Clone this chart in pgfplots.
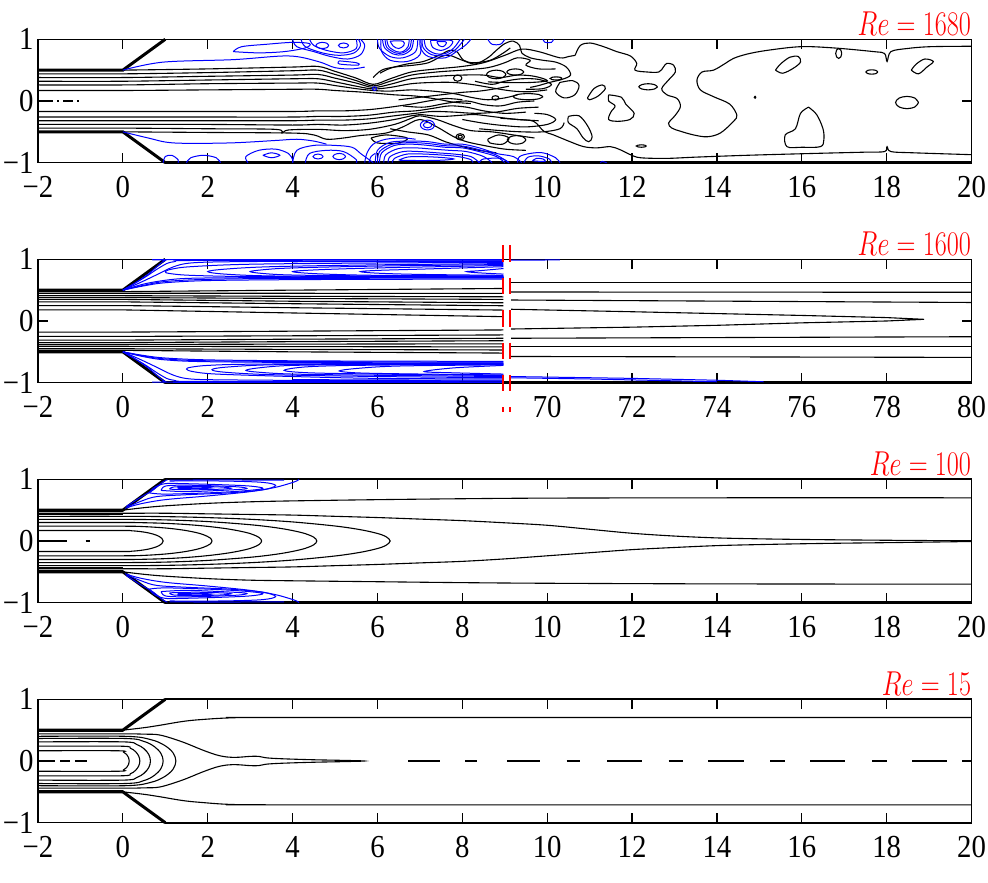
\documentclass[border=0pt]{standalone}
\usepackage{pgfplots}
\pgfplotsset{compat=1.18}
\usepackage{graphicx}
\usepackage{fontspec}
\setmainfont{Liberation Serif}[FakeStretch=0.9]
\definecolor{cb}{RGB}{0,0,255}
\pgfplotsset{
 panel/.style={anchor=south west, width=466.75pt, height=61.7pt, scale only axis,
   xmin=-2,xmax=20,ymin=-1,ymax=1, xtick={-2,0,...,20}, ytick={-1,0,1},
   xticklabels={−2,0,2,4,6,8,10,12,14,16,18,20},
   yticklabels={−1,0,1},
   tick align=inside, major tick length=5pt,
   axis line style={line width=0.6pt},
   every tick/.style={black,line width=0.6pt},
   tick label style={font=\fontsize{16}{18}\selectfont},
   yticklabel style={inner xsep=2pt,inner ysep=0pt},
   xticklabel style={inner ysep=0pt,yshift=-6.5pt},
   clip=false},
 k/.style={black,line width=0.55pt,smooth,tension=0.55},
 kl/.style={black,line width=0.55pt},
 b/.style={cb,line width=0.5pt,smooth,tension=0.55},
 bl/.style={cb,line width=0.5pt},
 wall/.style={black,line width=1.5pt},
}
\newcommand{\ttl}[1]{\node[anchor=base east,inner sep=0pt,text=red,font=\fontsize{17.28}{20}\selectfont] at (rel axis cs:1,1) [yshift=2pt] {\scalebox{0.76}[1]{$Re = #1$}};}
\begin{document}
\begin{tikzpicture}
\path[use as bounding box] (0,0) rectangle (494pt,441pt);
%================ PANEL 1 ==================
\begin{axis}[panel, at={(19pt,359.65pt)}]
\addplot[wall] coordinates {(-2,0.5)(0,0.5)(1,1)};
\addplot[wall] coordinates {(-2,-0.5)(0,-0.5)(1,-1)};
\addplot[black,line width=1.2pt] coordinates {(1,-1)(20,-1)};
\addplot[black,line width=0.6pt,dash pattern=on 5pt off 2pt on 1pt off 2pt] coordinates {(-1.88,0)(-0.95,0)};
% jet lines upper
\addplot[k] coordinates {(0,0.50)(2,0.52)(4,0.55)(4.6,0.56)(5.0,0.48)(5.5,0.37)(5.9,0.27)(6.3,0.36)(6.8,0.47)(7.4,0.52)(8.0,0.56)(8.5,0.62)(9.0,0.74)(9.4,0.84)(9.8,0.80)(10.3,0.70)(10.5,0.72)(10.66,0.74)};
\addplot[k] coordinates {(-2,0.44)(0,0.44)(2,0.46)(4,0.49)(4.6,0.50)(5.0,0.43)(5.5,0.33)(5.9,0.245)(6.3,0.32)(6.8,0.42)(7.4,0.47)(8.0,0.50)(8.6,0.54)(9.0,0.62)(9.3,0.70)(9.6,0.66)(9.5,0.58)(9.8,0.52)(10.2,0.52)};
\addplot[k] coordinates {(-2,0.38)(0,0.38)(2,0.40)(4,0.42)(4.6,0.43)(5.0,0.37)(5.5,0.29)(5.9,0.22)(6.3,0.27)(6.8,0.36)(7.4,0.40)(8.0,0.42)(8.5,0.42)(8.9,0.38)(9.3,0.42)(9.7,0.40)(10.0,0.33)(9.6,0.30)(9.0,0.30)(8.6,0.31)};
\addplot[k] coordinates {(-2,0.32)(0,0.32)(2,0.34)(4,0.36)(4.6,0.36)(5.0,0.31)(5.5,0.24)(5.9,0.195)(6.3,0.22)(6.8,0.28)(7.3,0.30)(7.8,0.30)(8.3,0.26)(8.8,0.20)(9.2,0.16)(9.6,0.15)(10.0,0.18)};
\addplot[k] coordinates {(-2,0.26)(0,0.26)(2,0.28)(4,0.29)(4.6,0.29)(5.0,0.25)(5.5,0.2)(5.9,0.17)(6.3,0.16)(6.8,0.18)(7.3,0.16)(7.8,0.12)(8.2,0.06)(8.6,0.02)(9.0,0.05)(9.3,0.10)};
\addplot[k] coordinates {(-2,0.17)(0,0.17)(2,0.18)(4,0.19)(4.6,0.19)(5.0,0.17)(5.5,0.15)(5.9,0.13)(6.4,0.10)(6.9,0.08)(7.4,0.03)(7.8,-0.02)(8.2,-0.04)};
% jet lines lower
\addplot[k] coordinates {(0,-0.5)(2,-0.51)(4,-0.52)(4.5,-0.55)(4.8,-0.62)(5.2,-0.60)(5.6,-0.56)(6.2,-0.52)(6.6,-0.42)(7.0,-0.30)(7.4,-0.42)(7.8,-0.58)(8.1,-0.66)(8.5,-0.72)(9.0,-0.78)(9.5,-0.80)};
\addplot[k] coordinates {(-2,-0.44)(0,-0.44)(2,-0.45)(3.6,-0.46)(3.75,-0.52)(3.9,-0.47)(4.6,-0.46)(5.2,-0.48)(5.8,-0.46)(6.4,-0.38)(6.8,-0.28)(7.0,-0.24)(7.4,-0.30)(7.8,-0.40)(8.2,-0.48)(8.7,-0.50)(9.2,-0.55)(9.7,-0.60)};
\addplot[k] coordinates {(-2,-0.38)(0,-0.38)(2,-0.38)(4,-0.39)(4.6,-0.38)(5.2,-0.39)(5.8,-0.36)(6.4,-0.30)(6.8,-0.24)(7.0,-0.22)(7.5,-0.25)(8.0,-0.23)(8.3,-0.22)(8.8,-0.26)(9.3,-0.30)(9.8,-0.32)};
\addplot[k] coordinates {(-2,-0.32)(0,-0.32)(2,-0.32)(4,-0.32)(4.6,-0.31)(5.2,-0.31)(5.8,-0.29)(6.4,-0.24)(6.9,-0.20)(7.3,-0.17)(7.8,-0.18)(8.3,-0.20)(8.8,-0.18)(9.3,-0.12)(9.8,-0.10)};
\addplot[k] coordinates {(-2,-0.26)(0,-0.26)(2,-0.26)(4,-0.26)(4.6,-0.25)(5.2,-0.25)(5.8,-0.23)(6.4,-0.18)(6.9,-0.16)(7.3,-0.12)(7.7,-0.08)(8.1,-0.10)(8.5,-0.16)(9.0,-0.20)(9.5,-0.18)};
\addplot[k] coordinates {(-2,-0.17)(0,-0.17)(2,-0.17)(4,-0.17)(4.6,-0.16)(5.2,-0.16)(5.8,-0.14)(6.3,-0.10)(6.8,-0.05)(7.2,0.0)(7.6,0.04)(8.0,0.02)};
% extra jet meanders
\addplot[k] coordinates {(5.9,0.38)(6.1,0.5)(6.4,0.55)(6.85,0.58)(7.2,0.62)(7.5,0.72)(7.7,0.74)(8.0,0.66)(8.3,0.6)(8.6,0.7)(8.8,0.82)(9.0,0.93)(9.2,0.97)(9.35,0.9)(9.4,0.78)(9.6,0.7)(9.9,0.66)(10.2,0.63)(10.45,0.55)(10.55,0.42)(10.35,0.35)(10.05,0.3)(9.8,0.25)(9.6,0.22)};
\addplot[k] coordinates {(6.06,0.45)(6.3,0.53)(6.7,0.6)(7.08,0.64)(7.48,0.75)(7.7,0.82)(7.87,0.8)(8.03,0.66)(8.27,0.62)(8.66,0.66)(8.97,0.78)(9.13,0.86)};
\addplot[k] coordinates {(8.3,0.32)(8.7,0.27)(9.0,0.32)(9.4,0.36)(9.8,0.35)(10.1,0.27)(9.9,0.2)(9.5,0.19)};
\addplot[k] coordinates {(6.5,0.02)(7.0,0.06)(7.5,0.1)(8.0,0.14)(8.4,0.16)(8.8,0.2)(9.1,0.24)};
\addplot[k] coordinates {(6.6,-0.08)(7.1,-0.1)(7.6,-0.04)(8.1,0.0)(8.5,-0.06)(8.9,-0.08)(9.3,-0.02)(9.7,0.0)};
\addplot[k] coordinates {(8.0,-0.3)(8.5,-0.36)(9.0,-0.4)(9.5,-0.42)(10.0,-0.38)(10.2,-0.3)(10.0,-0.22)(9.7,-0.2)};
\addplot[k] coordinates {(8.4,-0.45)(8.9,-0.48)(9.4,-0.5)(9.9,-0.5)(10.3,-0.45)(10.4,-0.35)};
\addplot[k] coordinates {(6.3,-0.45)(6.7,-0.5)(7.2,-0.55)(7.6,-0.66)(8.0,-0.74)(8.4,-0.8)(8.8,-0.84)};
\addplot[k] coordinates {(7.99,.37)(7.96,.405)(7.89,.42)(7.82,.405)(7.79,.37)(7.82,.335)(7.89,.32)(7.96,.335)(7.99,.37)};
\addplot[k] coordinates {(9.03,.43)(8.96,.479)(8.8,.5)(8.64,.479)(8.57,.43)(8.64,.381)(8.8,.36)(8.96,.381)(9.03,.43)};
\addplot[k] coordinates {(8.86,.05)(8.84,.075)(8.78,.085)(8.72,.075)(8.70,.05)(8.72,.025)(8.78,.015)(8.84,.025)(8.86,.05)};
\addplot[k] coordinates {(5.85,-0.6)(6.2,-0.55)(6.7,-0.6)(6.5,-0.68)(6.0,-0.68)(5.85,-0.6)};
\addplot[k] coordinates {(8.6,-0.62)(8.85,-0.55)(9.1,-0.6)(8.95,-0.7)(8.65,-0.68)(8.6,-0.62)};
\addplot[k] coordinates {(8.05,-.58)(8.02,-.545)(7.95,-.53)(7.88,-.545)(7.85,-.58)(7.88,-.615)(7.95,-.63)(8.02,-.615)(8.05,-.58)};
\addplot[k] coordinates {(8.0,-.58)(7.985,-.5625)(7.95,-.555)(7.915,-.5625)(7.9,-.58)(7.915,-.5975)(7.95,-.605)(7.985,-.5975)(8.0,-.58)};
\addplot[k] coordinates {(9.45,.47)(9.39,.505)(9.25,.52)(9.11,.505)(9.05,.47)(9.11,.435)(9.25,.42)(9.39,.435)(9.45,.47)};
\addplot[k] coordinates {(9.9,.07)(9.8,.105)(9.55,.12)(9.3,.105)(9.2,.07)(9.3,.035)(9.55,.02)(9.8,.035)(9.9,.07)};
\addplot[k] coordinates {(9.5,-.63)(9.43,-.581)(9.28,-.56)(9.13,-.581)(9.06,-.63)(9.13,-.679)(9.28,-.70)(9.43,-.679)(9.5,-.63)};
% far field
\addplot[k] coordinates {(10.66,0.74)(10.78,0.90)(11.01,0.94)(11.33,0.88)(11.64,0.80)(11.96,0.73)(12.11,0.61)(12.07,0.50)(12.35,0.47)(12.63,0.47)(12.74,0.55)(12.82,0.61)(12.98,0.58)(13.02,0.47)(12.86,0.34)(12.7,0.20)(12.82,0.10)(13.06,0.04)(13.14,-0.09)(13.02,-0.23)(12.86,-0.36)(12.94,-0.44)(13.14,-0.49)(13.45,-0.55)(13.77,-0.58)(14.08,-0.52)(14.39,-0.33)(14.47,-0.23)(14.3,-0.05)(13.92,0.07)(13.61,0.18)(13.53,0.34)(13.65,0.47)(13.92,0.5)(14.2,0.61)(14.39,0.69)(14.71,0.76)(15.18,0.82)(15.97,0.88)(16.75,0.86)(17.7,0.80)(17.95,0.77)(18.01,0.64)(18.1,0.80)(18.48,0.85)(19.03,0.88)(20,0.887)};
\addplot[k] coordinates {(8.9,-0.28)(9.3,-0.3)(9.68,-0.33)(9.92,-0.49)(10.15,-0.55)(10.54,-0.66)(10.86,-0.74)(11.17,-0.76)(11.49,-0.74)(11.72,-0.79)(11.96,-0.87)(12.2,-0.92)(12.82,-0.93)(13.5,-0.91)(14.71,-0.88)(16.28,-0.85)(17.46,-0.83)(17.95,-0.82)(18.01,-0.74)(18.1,-0.82)(18.64,-0.84)(20,-0.87)};
\addplot[k] coordinates {(10.5,-0.25)(10.75,-0.24)(10.95,-0.4)(11.06,-0.58)(10.98,-0.66)(10.85,-0.6)(10.7,-0.45)(10.5,-0.35)(10.5,-0.25)};
\addplot[k] coordinates {(11.45,0.1)(11.75,0.06)(11.85,-0.05)(12.05,-0.2)(11.95,-0.3)(11.65,-0.33)(11.45,-0.3)(11.5,-0.18)(11.6,-0.08)(11.45,0.0)(11.45,0.1)};
\addplot[k] coordinates {(10.95,0.05)(11.1,0.2)(11.3,0.26)(11.37,0.2)(11.2,0.08)(11.0,0.02)(10.95,0.05)};
\addplot[k] coordinates {(10.3,0.3)(10.6,0.33)(10.75,0.25)(10.65,0.1)(10.4,0.05)(10.2,0.15)(10.3,0.3)};
\addplot[k] coordinates {(10.35,.365)(10.31,.383)(10.21,.39)(10.11,.383)(10.07,.365)(10.11,.348)(10.21,.34)(10.31,.348)(10.35,.365)};
\addplot[k] coordinates {(12.6,.23)(12.53,.265)(12.38,.28)(12.23,.265)(12.16,.23)(12.23,.195)(12.38,.18)(12.53,.195)(12.6,.23)};
\addplot[k] coordinates {(12.34,-.73)(12.30,-.716)(12.22,-.71)(12.14,-.716)(12.10,-.73)(12.14,-.744)(12.22,-.75)(12.30,-.744)(12.34,-.73)};
\addplot[k] coordinates {(16.16,-0.1)(16.35,-0.22)(16.5,-0.45)(16.52,-0.63)(16.44,-0.74)(16.0,-0.75)(15.65,-0.74)(15.61,-0.55)(15.85,-0.45)(15.97,-0.2)(16.16,-0.1)};
\addplot[k] coordinates {(15.38,0.5)(15.5,0.6)(15.72,0.71)(15.92,0.72)(15.97,0.63)(15.8,0.53)(15.55,0.45)(15.38,0.5)};
\addplot[k] coordinates {(16.94,.77)(16.92,.826)(16.87,.85)(16.82,.826)(16.80,.77)(16.82,.714)(16.87,.69)(16.92,.714)(16.94,.77)};
\addplot[k] coordinates {(17.79,.47)(17.75,.495)(17.65,.505)(17.55,.495)(17.51,.47)(17.55,.445)(17.65,.435)(17.75,.445)(17.79,.47)};
\addplot[k] coordinates {(18.58,0.5)(18.7,0.6)(18.9,0.68)(19.1,0.64)(18.95,0.55)(18.75,0.44)(18.58,0.5)};
\addplot[k] coordinates {(18.75,-.025)(18.67,.045)(18.48,.075)(18.29,.045)(18.21,-.025)(18.29,-.095)(18.48,-.125)(18.67,-.095)(18.75,-.025)};
\addplot[k] coordinates {(14.92,.06)(14.9,.075)(14.88,.06)(14.9,.045)(14.92,.06)};
% blue top
\addplot[b] coordinates {(0,0.5)(0.95,0.63)(2.6,0.67)(3.9,0.73)(4.6,0.64)(5.0,0.54)(5.4,0.52)(5.7,0.55)};
\addplot[b] coordinates {(2.6,0.80)(2.8,0.88)(3.4,0.92)(4.0,0.95)(4.4,0.93)(4.3,0.86)(3.8,0.80)(3.2,0.78)(2.6,0.80)};
\addplot[b] coordinates {(4.0,1.0)(4.1,0.88)(4.5,0.8)(4.9,0.72)(5.3,0.68)(5.6,0.75)(5.7,0.9)(5.6,1.0)};
\addplot[b] coordinates {(4.2,1.0)(4.3,0.88)(4.7,0.78)(5.1,0.74)(5.45,0.78)(5.6,0.9)(5.55,1.0)};
\addplot[b] coordinates {(4.4,1.0)(4.5,0.9)(4.8,0.82)(5.2,0.78)(5.5,0.85)(5.5,1.0)};
\addplot[b] coordinates {(4.85,.9)(4.81,.935)(4.7,.95)(4.6,.935)(4.55,.9)(4.6,.865)(4.7,.85)(4.81,.865)(4.85,.9)};
\addplot[b] coordinates {(5.1,0.65)(5.5,0.62)(5.55,0.58)(5.1,0.6)(5.1,0.65)};
\addplot[b] coordinates {(5.32,.9)(5.28,.928)(5.2,.94)(5.12,.928)(5.08,.9)(5.12,.872)(5.2,.86)(5.28,.872)(5.32,.9)};
\addplot[b] coordinates {(6.0,1.0)(6.05,0.85)(6.3,0.72)(6.6,0.7)(6.9,0.8)(6.95,1.0)};
\addplot[b] coordinates {(6.12,1.0)(6.17,0.86)(6.38,0.76)(6.6,0.75)(6.8,0.84)(6.85,1.0)};
\addplot[b] coordinates {(6.18,1.0)(6.22,0.87)(6.42,0.78)(6.6,0.78)(6.76,0.86)(6.8,1.0)};
\addplot[b] coordinates {(6.22,1.0)(6.27,0.88)(6.45,0.8)(6.6,0.8)(6.72,0.88)(6.75,1.0)};
\addplot[b] coordinates {(6.3,0.97)(6.37,0.89)(6.5,0.85)(6.62,0.9)(6.6,0.97)(6.3,0.97)};
\addplot[b] coordinates {(6.08,1.0)(6.1,0.8)(6.3,0.66)(6.7,0.64)(7.0,0.75)(7.02,1.0)};
\addplot[b] coordinates {(7.0,1.0)(7.02,0.85)(7.2,0.72)(7.6,0.7)(7.9,0.82)(8.1,0.92)(8.2,1.0)};
\addplot[b] coordinates {(7.05,1.0)(7.08,0.86)(7.28,0.75)(7.6,0.74)(7.85,0.84)(8.05,1.0)};
\addplot[b] coordinates {(7.1,1.0)(7.15,0.86)(7.35,0.77)(7.6,0.77)(7.8,0.86)(7.95,1.0)};
\addplot[b] coordinates {(7.25,0.98)(7.3,0.87)(7.5,0.82)(7.7,0.88)(7.75,0.98)(7.25,0.98)};
\addplot[b] coordinates {(7.4,0.96)(7.45,0.9)(7.55,0.88)(7.62,0.93)(7.6,0.96)(7.4,0.96)};
\addplot[b] coordinates {(8.6,1.0)(8.7,0.92)(8.9,0.92)(9.0,1.0)};
\addplot[b] coordinates {(9.9,1.0)(9.95,0.95)(10.1,0.95)(10.15,1.0)};
\addplot[b] coordinates {(5.98,.2)(5.965,.221)(5.93,.23)(5.895,.221)(5.88,.2)(5.895,.179)(5.93,.17)(5.965,.179)(5.98,.2)};
\addplot[b] coordinates {(7.35,-.39)(7.30,-.334)(7.18,-.31)(7.06,-.334)(7.01,-.39)(7.06,-.446)(7.18,-.47)(7.30,-.446)(7.35,-.39)};
\addplot[b] coordinates {(7.28,-.39)(7.25,-.3585)(7.18,-.345)(7.11,-.3585)(7.08,-.39)(7.11,-.4215)(7.18,-.435)(7.25,-.4215)(7.28,-.39)};
% blue bottom
\addplot[b] coordinates {(0,-0.5)(0.6,-0.6)(1.2,-0.68)(2.5,-0.68)(3.6,-0.64)(4.1,-0.62)(4.5,-0.65)(4.8,-0.7)};
\addplot[b] coordinates {(0.95,-1.0)(1.0,-0.9)(1.15,-0.88)(1.3,-0.95)(1.3,-1.0)};
\addplot[b] coordinates {(1.5,-1.0)(1.6,-0.92)(1.9,-0.88)(2.2,-0.92)(2.3,-1.0)};
\addplot[b] coordinates {(2.95,-1.0)(2.9,-0.9)(3.2,-0.8)(3.6,-0.78)(3.9,-0.85)(4.0,-0.95)(4.0,-1.0)};
\addplot[b] coordinates {(3.3,-0.88)(3.5,-0.84)(3.7,-0.88)(3.5,-0.92)(3.3,-0.88)};
\addplot[b] coordinates {(4.0,-1.0)(4.1,-0.8)(4.5,-0.72)(5.0,-0.72)(5.4,-0.75)(5.6,-0.85)(5.8,-0.95)(5.9,-1.0)};
\addplot[b] coordinates {(4.3,-1.0)(4.4,-0.85)(4.8,-0.8)(5.2,-0.82)(5.5,-0.95)(5.5,-1.0)};
\addplot[b] coordinates {(4.72,-.9)(4.68,-.872)(4.6,-.86)(4.52,-.872)(4.48,-.9)(4.52,-.928)(4.6,-.94)(4.68,-.928)(4.72,-.9)};
\addplot[b] coordinates {(5.25,-.9)(5.2,-.865)(5.1,-.85)(5.0,-.865)(4.95,-.9)(5.0,-.935)(5.1,-.95)(5.2,-.935)(5.25,-.9)};
\addplot[b] coordinates {(5.95,-1.0)(6.0,-0.8)(6.3,-0.67)(6.8,-0.65)(7.2,-0.66)(7.6,-0.7)(8.0,-0.7)(8.4,-0.76)(8.8,-0.85)(9.2,-0.9)(9.4,-1.0)};
\addplot[b] coordinates {(6.0,-1.0)(6.05,-0.82)(6.35,-0.7)(6.8,-0.675)(7.2,-0.69)(7.6,-0.725)(8.0,-0.73)(8.4,-0.79)(8.8,-0.875)(9.1,-1.0)};
\addplot[b] coordinates {(6.05,-1.0)(6.1,-0.84)(6.4,-0.72)(6.8,-0.7)(7.2,-0.72)(7.6,-0.75)(8.0,-0.76)(8.4,-0.82)(8.8,-0.9)(9.0,-1.0)};
\addplot[b] coordinates {(6.15,-1.0)(6.2,-0.87)(6.5,-0.77)(6.9,-0.76)(7.3,-0.78)(7.7,-0.8)(8.1,-0.82)(8.5,-0.9)(8.7,-1.0)};
\addplot[b] coordinates {(6.25,-1.0)(6.3,-0.9)(6.6,-0.82)(7.0,-0.82)(7.4,-0.84)(7.8,-0.86)(8.2,-0.9)(8.4,-1.0)};
\addplot[b] coordinates {(6.35,-1.0)(6.4,-0.93)(6.7,-0.86)(7.1,-0.86)(7.5,-0.875)(7.9,-0.9)(8.2,-0.95)(8.25,-1.0)};
\addplot[b] coordinates {(6.5,-0.96)(6.7,-0.91)(7.0,-0.9)(7.5,-0.915)(7.8,-0.94)(7.5,-0.96)(7.0,-0.965)(6.5,-0.96)};
\addplot[b] coordinates {(5.7,-1.0)(5.75,-0.85)(5.9,-0.7)(6.2,-0.62)(6.6,-0.6)(6.9,-0.62)};
\addplot[b] coordinates {(5.8,-1.0)(5.85,-0.9)(5.95,-0.85)};
\addplot[b] coordinates {(9.3,-1.0)(9.35,-0.9)(9.6,-0.85)(9.9,-0.84)(10.2,-0.92)(10.3,-1.0)};
\addplot[b] coordinates {(9.45,-1.0)(9.55,-0.91)(9.8,-0.89)(10.05,-0.94)(10.1,-1.0)};
\addplot[b] coordinates {(9.65,-0.97)(9.75,-0.93)(9.9,-0.94)(9.95,-0.98)(9.65,-0.97)};
\addplot[b] coordinates {(8.4,-1.0)(8.5,-0.94)(8.9,-0.93)(9.1,-1.0)};
\addplot[b] coordinates {(11.25,-1.0)(11.3,-0.98)(11.4,-1.0)};
\ttl{1680}
\end{axis}
%================ PANEL 2 ==================
\begin{axis}[panel, at={(19pt,249.65pt)}, xticklabels={−2,0,2,4,6,8,70,72,74,76,78,80}]
\addplot[wall] coordinates {(-2,0.5)(0,0.5)(1,1)};
\addplot[wall] coordinates {(-2,-0.5)(0,-0.5)(1,-1)};
\addplot[black,line width=1.2pt] coordinates {(1,-1)(20,-1)};
% black streamlines left
\addplot[kl] coordinates {(-2,0.476)(0,0.476)(4,0.50)(8.97,0.527)};
\addplot[kl] coordinates {(-2,0.45)(0,0.45)(4,0.449)(8.97,0.447)};
\addplot[kl] coordinates {(-2,0.41)(0,0.41)(4,0.40)(8.97,0.392)};
\addplot[kl] coordinates {(-2,0.38)(0,0.38)(4,0.365)(8.97,0.35)};
\addplot[kl] coordinates {(-2,0.35)(0,0.35)(4,0.32)(8.97,0.295)};
\addplot[kl] coordinates {(-2,0.31)(0,0.31)(4,0.28)(8.97,0.247)};
\addplot[kl] coordinates {(-2,0.25)(0,0.25)(4,0.215)(8.97,0.177)};
\addplot[kl] coordinates {(-2,0.18)(0,0.18)(4,0.13)(8.97,0.07)};
\addplot[kl] coordinates {(-2,-0.476)(0,-0.476)(4,-0.50)(8.97,-0.52)};
\addplot[kl] coordinates {(-2,-0.45)(0,-0.45)(4,-0.46)(8.97,-0.47)};
\addplot[kl] coordinates {(-2,-0.41)(0,-0.41)(4,-0.415)(8.97,-0.42)};
\addplot[kl] coordinates {(-2,-0.38)(0,-0.38)(4,-0.375)(8.97,-0.37)};
\addplot[kl] coordinates {(-2,-0.35)(0,-0.35)(4,-0.335)(8.97,-0.32)};
\addplot[kl] coordinates {(-2,-0.31)(0,-0.31)(4,-0.295)(8.97,-0.28)};
\addplot[kl] coordinates {(-2,-0.25)(0,-0.25)(4,-0.24)(8.97,-0.226)};
\addplot[kl] coordinates {(-2,-0.18)(0,-0.18)(4,-0.165)(8.97,-0.145)};
% blue top
\addplot[b] coordinates {(0,0.5)(0.5,0.57)(1,0.62)(2,0.655)(4,0.67)(6,0.675)(8.97,0.68)};
\addplot[b] coordinates {(0,0.5)(0.5,0.6)(1,0.66)(1.5,0.69)(2.5,0.70)(5,0.705)(8.97,0.71)};
\addplot[b] coordinates {(0,0.5)(0.5,0.58)(1,0.64)(2,0.675)(4,0.69)(8.97,0.695)};
\addplot[b] coordinates {(8.97,0.715)(6,0.715)(3,0.72)(1.6,0.74)(1.1,0.77)(1.0,0.8)(1.15,0.84)(1.6,0.88)(3,0.92)(6,0.94)(8.97,0.95)};
\addplot[b] coordinates {(8.97,0.72)(6,0.72)(3.5,0.73)(2.4,0.76)(2.0,0.8)(2.4,0.84)(3.5,0.88)(6,0.91)(8.97,0.93)};
\addplot[b] coordinates {(8.97,0.725)(6,0.73)(4,0.745)(3.3,0.77)(3.0,0.8)(3.3,0.83)(4,0.86)(6,0.89)(8.97,0.915)};
\addplot[b] coordinates {(8.97,0.73)(6,0.74)(4.6,0.765)(4.0,0.8)(4.6,0.83)(6,0.86)(8.97,0.9)};
\addplot[b] coordinates {(8.97,0.74)(7,0.755)(6,0.775)(5.6,0.8)(6,0.82)(7,0.84)(8.97,0.88)};
\addplot[b] coordinates {(8.97,0.76)(8.4,0.78)(8.1,0.8)(8.4,0.815)(8.97,0.85)};
\addplot[b] coordinates {(0,0.5)(0.4,0.62)(0.8,0.75)(1.2,0.88)(1.6,0.94)(2.5,0.96)(5,0.97)(8.97,0.975)};
\addplot[b] coordinates {(0,0.5)(0.5,0.7)(0.9,0.88)(1.2,0.96)(2,0.982)(8.97,0.985)};
\addplot[b] coordinates {(0,0.5)(0.3,0.62)(0.6,0.76)(0.8,0.88)(1.0,0.98)(1.3,0.993)(8.97,0.993)};
\addplot[b] coordinates {(4,0.96)(6,0.962)(8.97,0.965)};
\addplot[b] coordinates {(5,0.7)(7,0.7)(8.97,0.7)};
% blue bottom
\addplot[b] coordinates {(0,-0.5)(0.5,-0.56)(1,-0.6)(2,-0.63)(4,-0.645)(6,-0.65)(8.97,-0.655)};
\addplot[b] coordinates {(0,-0.5)(0.5,-0.58)(1,-0.63)(2,-0.66)(5,-0.675)(8.97,-0.68)};
\addplot[b] coordinates {(0,-0.5)(0.5,-0.57)(1,-0.615)(2,-0.645)(5,-0.66)(8.97,-0.668)};
\addplot[b] coordinates {(8.97,-0.69)(6,-0.69)(3,-0.7)(2,-0.72)(1.6,-0.75)(1.5,-0.78)(1.65,-0.82)(2.2,-0.86)(4,-0.9)(6,-0.93)(8.97,-0.94)};
\addplot[b] coordinates {(8.97,-0.695)(6,-0.7)(3.5,-0.71)(2.4,-0.75)(2.1,-0.79)(2.4,-0.83)(3.5,-0.87)(6,-0.9)(8.97,-0.92)};
\addplot[b] coordinates {(8.97,-0.70)(6,-0.705)(4,-0.72)(3.2,-0.76)(2.9,-0.8)(3.2,-0.83)(4,-0.86)(6,-0.88)(8.97,-0.9)};
\addplot[b] coordinates {(8.97,-0.705)(6,-0.715)(4.4,-0.74)(3.8,-0.8)(4.4,-0.84)(6,-0.86)(8.97,-0.885)};
\addplot[b] coordinates {(8.97,-0.71)(6.5,-0.73)(5.5,-0.77)(5.1,-0.81)(5.5,-0.84)(6.5,-0.855)(8.97,-0.875)};
\addplot[b] coordinates {(8.97,-0.72)(7.8,-0.76)(7.1,-0.82)(7.8,-0.84)(8.97,-0.86)};
\addplot[b] coordinates {(0,-0.5)(0.4,-0.62)(0.8,-0.75)(1.2,-0.88)(1.6,-0.94)(2.5,-0.955)(5,-0.965)(8.97,-0.97)};
\addplot[b] coordinates {(0,-0.5)(0.5,-0.7)(0.9,-0.88)(1.2,-0.96)(2,-0.98)(8.97,-0.985)};
\addplot[b] coordinates {(0,-0.5)(0.3,-0.62)(0.6,-0.76)(0.8,-0.88)(1.0,-0.98)(1.3,-0.993)(8.97,-0.993)};
\addplot[b] coordinates {(4,-0.95)(6,-0.955)(8.97,-0.96)};
% right part (x+60)
\addplot[kl] coordinates {(9.15,0.624)(20,0.624)};
\addplot[kl] coordinates {(9.15,0.47)(20,0.465)};
\addplot[kl] coordinates {(9.15,0.34)(20,0.30)};
\addplot[kl] coordinates {(9.15,0.19)(12,0.15)(14,0.12)(16,0.09)(18,0.055)(18.88,0.027)(18,0.0)(16,-0.03)(14,-0.07)(12,-0.1)(9.15,-0.13)};
\addplot[kl] coordinates {(9.15,-0.28)(20,-0.255)};
\addplot[kl] coordinates {(9.15,-0.41)(20,-0.41)};
\addplot[kl] coordinates {(9.15,-0.575)(20,-0.59)};
\addplot[bl] coordinates {(9.15,-0.9)(12,-0.93)(14,-0.96)(15.1,-0.985)};
\addplot[bl] coordinates {(9.15,-0.92)(11,-0.94)(13,-0.97)(14,-0.985)};
\addplot[bl] coordinates {(9.15,0.985)(10.3,0.99)};
% break marks
\addplot[red,line width=1pt,dash pattern=on 8.2pt off 8pt] coordinates {(8.97,1.226)(8.97,-1.468)};
\addplot[red,line width=1pt,dash pattern=on 8.2pt off 8pt] coordinates {(9.13,1.226)(9.13,-1.468)};
\ttl{1600}
\end{axis}
%================ PANEL 3 ==================
\begin{axis}[panel, at={(19pt,139.65pt)}]
\addplot[wall] coordinates {(-2,0.5)(0,0.5)(1,1)};
\addplot[wall] coordinates {(-2,-0.5)(0,-0.5)(1,-1)};
\addplot[black,line width=1.2pt] coordinates {(1,-1)(20,-1)};
\addplot[black,line width=1pt] coordinates {(1,1)(20,1)};
\addplot[black,line width=0.6pt] coordinates {(-1.88,0)(-1.32,0)};
\addplot[black,line width=0.6pt] coordinates {(-0.88,0)(-0.77,0)};
% lip lines
\addplot[k] coordinates {(0,0.5)(0.5,0.54)(1,0.57)(2,0.61)(3,0.635)(4,0.65)(6,0.67)(8,0.685)(10,0.695)(14,0.70)(20,0.70)};
\addplot[k] coordinates {(0,-0.5)(0.5,-0.54)(1,-0.57)(2,-0.61)(3,-0.635)(4,-0.645)(6,-0.66)(8,-0.675)(10,-0.685)(14,-0.695)(20,-0.70)};
% long lines
\addplot[k] coordinates {(-2,0.45)(0,0.45)(1,0.45)(2,0.44)(3,0.43)(4,0.42)(5,0.40)(6,0.38)(7,0.355)(8,0.33)(9,0.295)(10,0.255)(11,0.19)(12,0.125)(13,0.08)(14,0.05)(15,0.035)(16,0.025)(17,0.018)(18,0.012)(19,0.007)(20,0.003)};
\addplot[k] coordinates {(-2,-0.45)(0,-0.45)(1,-0.45)(2,-0.44)(3,-0.43)(4,-0.42)(5,-0.40)(6,-0.38)(7,-0.355)(8,-0.33)(9,-0.29)(10,-0.24)(11,-0.19)(12,-0.14)(13,-0.105)(14,-0.075)(15,-0.058)(16,-0.045)(17,-0.035)(18,-0.027)(19,-0.018)(20,-0.008)};
% tongues
\addplot[k] coordinates {(-2,0.40)(0,0.40)(1,0.395)(2,0.379)(3,0.352)(4,0.309)(5,0.243)(5.6,0.183)(6.0,0.122)(6.2,0.071)(6.3,0)(6.2,-0.071)(6.0,-0.122)(5.6,-0.183)(5,-0.243)(4,-0.309)(3,-0.352)(2,-0.379)(1,-0.395)(0,-0.40)(-2,-0.40)};
\addplot[k] coordinates {(-2,0.35)(0,0.35)(1,0.342)(2,0.315)(3,0.264)(3.6,0.216)(4.0,0.169)(4.3,0.119)(4.5,0.061)(4.57,0)(4.5,-0.061)(4.3,-0.119)(4.0,-0.169)(3.6,-0.216)(3,-0.264)(2,-0.315)(1,-0.342)(0,-0.35)(-2,-0.35)};
\addplot[k] coordinates {(-2,0.30)(0,0.30)(0.5,0.296)(1,0.286)(1.5,0.267)(2,0.237)(2.5,0.193)(2.9,0.139)(3.1,0.095)(3.22,0.052)(3.27,0)(3.22,-0.052)(3.1,-0.095)(2.9,-0.139)(2.5,-0.193)(2,-0.237)(1.5,-0.267)(1,-0.286)(0.5,-0.296)(0,-0.30)(-2,-0.30)};
\addplot[k] coordinates {(-2,0.24)(0,0.24)(0.5,0.233)(1,0.211)(1.4,0.179)(1.7,0.141)(1.9,0.102)(2.05,0.052)(2.1,0)(2.05,-0.052)(1.9,-0.102)(1.7,-0.141)(1.4,-0.179)(1,-0.211)(0.5,-0.233)(0,-0.24)(-2,-0.24)};
\addplot[k] coordinates {(-2,0.17)(0,0.17)(0.2,0.166)(0.4,0.154)(0.6,0.132)(0.75,0.104)(0.85,0.076)(0.92,0.042)(0.95,0)(0.92,-0.042)(0.85,-0.076)(0.75,-0.104)(0.6,-0.132)(0.4,-0.154)(0.2,-0.166)(0,-0.17)(-2,-0.17)};
\addplot[kl] coordinates {(-2,0.475)(0,0.475)};
\addplot[kl] coordinates {(-2,0.425)(0,0.425)};
\addplot[kl] coordinates {(-2,-0.475)(0,-0.475)};
\addplot[kl] coordinates {(-2,-0.425)(0,-0.425)};
% blue top
\addplot[b] coordinates {(0.05,0.53)(0.4,0.6)(1,0.67)(2,0.73)(3,0.8)(3.6,0.87)(4.05,0.96)(4.15,1.0)};
\addplot[b] coordinates {(0.62,0.78)(1.0,0.76)(2.0,0.78)(2.8,0.81)(3.3,0.85)(3.0,0.89)(2.2,0.915)(1.4,0.93)(1.0,0.93)(0.75,0.87)(0.62,0.78)};
\addplot[b] coordinates {(0.9,0.82)(1.5,0.8)(2.3,0.82)(2.9,0.845)(2.75,0.875)(2.1,0.895)(1.4,0.905)(1.0,0.89)(0.9,0.82)};
\addplot[b] coordinates {(1.1,0.84)(1.7,0.83)(2.3,0.84)(2.55,0.855)(2.3,0.875)(1.7,0.885)(1.2,0.875)(1.1,0.84)};
\addplot[b] coordinates {(1.3,0.855)(1.8,0.85)(2.1,0.86)(1.85,0.872)(1.35,0.87)(1.3,0.855)};
\addplot[b] coordinates {(0.08,0.56)(0.4,0.7)(0.7,0.82)(0.95,0.96)(1.05,0.99)};
\addplot[b] coordinates {(0.1,0.55)(0.45,0.65)(0.8,0.72)(1.5,0.75)(2.5,0.78)(3.3,0.83)(3.6,0.9)(3.3,0.95)(2.5,0.97)(1.5,0.975)(1.1,0.97)};
\addplot[b] coordinates {(1.1,0.985)(2,0.99)(3,0.988)(3.8,0.985)};
% blue bottom
\addplot[b] coordinates {(0.05,-0.53)(0.4,-0.6)(1,-0.67)(2,-0.73)(3,-0.8)(3.6,-0.87)(4.05,-0.96)(4.15,-1.0)};
\addplot[b] coordinates {(0.62,-0.78)(1.0,-0.76)(2.0,-0.78)(2.8,-0.81)(3.3,-0.85)(3.0,-0.89)(2.2,-0.915)(1.4,-0.93)(1.0,-0.93)(0.75,-0.87)(0.62,-0.78)};
\addplot[b] coordinates {(0.9,-0.82)(1.5,-0.8)(2.3,-0.82)(2.9,-0.845)(2.75,-0.875)(2.1,-0.895)(1.4,-0.905)(1.0,-0.89)(0.9,-0.82)};
\addplot[b] coordinates {(1.1,-0.84)(1.7,-0.83)(2.3,-0.84)(2.55,-0.855)(2.3,-0.875)(1.7,-0.885)(1.2,-0.875)(1.1,-0.84)};
\addplot[b] coordinates {(1.3,-0.855)(1.8,-0.85)(2.1,-0.86)(1.85,-0.872)(1.35,-0.87)(1.3,-0.855)};
\addplot[b] coordinates {(0.08,-0.56)(0.4,-0.7)(0.7,-0.82)(0.95,-0.96)(1.05,-0.99)};
\addplot[b] coordinates {(0.1,-0.55)(0.45,-0.65)(0.8,-0.72)(1.5,-0.75)(2.5,-0.78)(3.3,-0.83)(3.6,-0.9)(3.3,-0.95)(2.5,-0.97)(1.5,-0.975)(1.1,-0.97)};
\addplot[b] coordinates {(1.1,-0.985)(2,-0.99)(3,-0.988)(3.8,-0.985)};
\ttl{100}
\end{axis}
%================ PANEL 4 ==================
\begin{axis}[panel, at={(19pt,29.65pt)}]
\addplot[wall] coordinates {(-2,0.5)(0,0.5)(1,1)};
\addplot[wall] coordinates {(-2,-0.5)(0,-0.5)(1,-1)};
\addplot[black,line width=1.2pt] coordinates {(1,-1)(20,-1)};
\addplot[black,line width=1.2pt] coordinates {(1,1)(20,1)};
\addplot[black,line width=0.6pt] coordinates {(-1.88,0)(-1.6,0)};
\addplot[black,line width=0.6pt] coordinates {(-1.48,0)(-1.25,0)};
\addplot[black,line width=0.6pt] coordinates {(-1.13,0)(-0.85,0)};
\addplot[k] coordinates {(0,0.5)(0.5,0.54)(0.88,0.58)(1.4,0.64)(1.82,0.67)(2.6,0.70)(4,0.705)(20,0.705)};
\addplot[k] coordinates {(0,-0.5)(0.5,-0.54)(0.88,-0.58)(1.4,-0.64)(1.82,-0.67)(2.6,-0.705)(4,-0.71)(20,-0.71)};
\addplot[k] coordinates {(-2,0.44)(0,0.44)(0.5,0.435)(0.88,0.42)(1.4,0.31)(1.87,0.18)(2.2,0.10)(2.45,0.065)(2.7,0.06)(3.0,0.075)(3.2,0.075)(3.4,0.05)(3.8,0.035)(4.5,0.02)(5.2,0.01)(5.7,0)(5.2,-0.01)(4.5,-0.02)(3.8,-0.035)(3.4,-0.05)(3.2,-0.075)(3.0,-0.075)(2.7,-0.06)(2.45,-0.065)(2.2,-0.10)(1.87,-0.18)(1.4,-0.31)(0.88,-0.42)(0.5,-0.435)(0,-0.44)(-2,-0.44)};
\addplot[k] coordinates {(-2,0.40)(0.07,0.40)(0.66,0.346)(0.974,0.257)(1.179,0.137)(1.25,0)(1.179,-0.137)(0.974,-0.257)(0.66,-0.346)(0.07,-0.40)(-2,-0.40)};
\addplot[k] coordinates {(-2,0.365)(0.05,0.365)(0.5,0.316)(0.739,0.235)(0.896,0.125)(0.95,0)(0.896,-0.125)(0.739,-0.235)(0.5,-0.316)(0.05,-0.365)(-2,-0.365)};
\addplot[k] coordinates {(-2,0.31)(0,0.31)(0.325,0.268)(0.498,0.199)(0.611,0.106)(0.65,0)(0.611,-0.106)(0.498,-0.199)(0.325,-0.268)(0,-0.31)(-2,-0.31)};
\addplot[k] coordinates {(-2,0.24)(-0.05,0.24)(0.175,0.208)(0.295,0.154)(0.373,0.082)(0.40,0)(0.373,-0.082)(0.295,-0.154)(0.175,-0.208)(-0.05,-0.24)(-2,-0.24)};
\addplot[k] coordinates {(-2,0.166)(-0.12,0.166)(0.015,0.144)(0.087,0.107)(0.134,0.057)(0.15,0)(0.134,-0.057)(0.087,-0.107)(0.015,-0.144)(-0.12,-0.166)(-2,-0.166)};
\addplot[kl] coordinates {(-2,0.475)(0,0.475)};
\addplot[kl] coordinates {(-2,-0.475)(0,-0.475)};
% centre dashes
\addplot[black,line width=0.8pt] coordinates {(6.73,0)(7.48,0)};
\addplot[black,line width=0.8pt] coordinates {(8.07,0)(8.35,0)};
\addplot[black,line width=0.8pt] coordinates {(9.05,0)(9.83,0)};
\addplot[black,line width=0.8pt] coordinates {(10.46,0)(10.78,0)};
\addplot[black,line width=0.8pt] coordinates {(11.41,0)(12.23,0)};
\addplot[black,line width=0.8pt] coordinates {(12.86,0)(13.21,0)};
\addplot[black,line width=0.8pt] coordinates {(13.8,0)(14.63,0)};
\addplot[black,line width=0.8pt] coordinates {(15.26,0)(15.61,0)};
\addplot[black,line width=0.8pt] coordinates {(16.2,0)(17.03,0)};
\addplot[black,line width=0.8pt] coordinates {(17.66,0)(18.01,0)};
\addplot[black,line width=0.8pt] coordinates {(18.6,0)(19.42,0)};
\addplot[black,line width=0.8pt] coordinates {(19.82,0)(20,0)};
\ttl{15}
\end{axis}
\end{tikzpicture}
\end{document}
